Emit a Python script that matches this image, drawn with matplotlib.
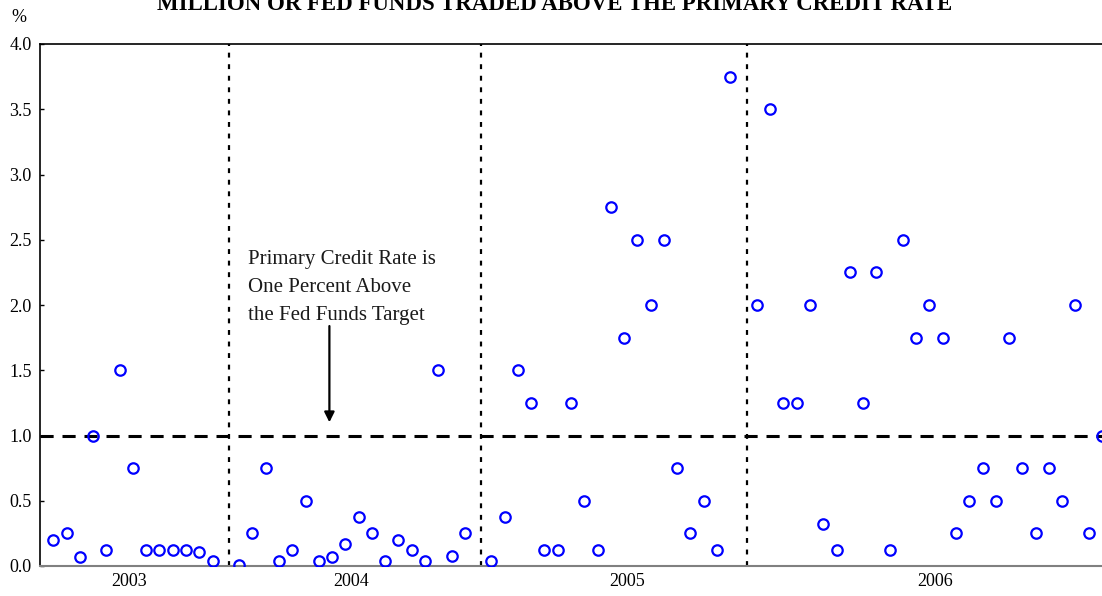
import numpy as np
import matplotlib
matplotlib.use("Agg")
import matplotlib.pyplot as plt

# share of days with more than X million of fed funds traded above primary credit rate (%)
years = ["2003", "2004", "2005", "2006"]
vals_2003 = [0.2, 0.25, 0.07, 1.0, 0.125, 1.5, 0.75, 0.125, 0.125, 0.125, 0.125, 0.11, 0.04]
vals_2004 = [0.01, 0.25, 0.75, 0.04, 0.125, 0.5, 0.04, 0.07, 0.17, 0.375, 0.25, 0.04,
             0.2, 0.125, 0.04, 1.5, 0.08, 0.25]
vals_2005 = [0.04, 0.375, 1.5, 1.25, 0.125, 0.125, 1.25, 0.5, 0.125, 2.75, 1.75, 2.5,
             2.0, 2.5, 0.75, 0.25, 0.5, 0.125, 3.75]
vals_2006 = [2.0, 3.5, 1.25, 1.25, 2.0, 0.32, 0.125, 2.25, 1.25, 2.25, 0.125, 2.5, 1.75,
             2.0, 1.75, 0.25, 0.5, 0.75, 0.5, 1.75, 0.75, 0.25, 0.75, 0.5, 2.0, 0.25, 1.0]
threshold = 1.0
note = "Primary Credit Rate is\nOne Percent Above\nthe Fed Funds Target"
title = "MILLION OR FED FUNDS TRADED ABOVE THE PRIMARY CREDIT RATE"

plt.rcParams['font.family'] = ['Liberation Serif', 'DejaVu Serif']

# category positions, with one empty slot between years
groups = [vals_2003, vals_2004, vals_2005, vals_2006]
xs, ys, gaps = [], [], []
pos = 0
for i, g in enumerate(groups):
    for v in g:
        xs.append(pos)
        ys.append(v)
        pos += 1
    if i < len(groups) - 1:
        gaps.append(pos)
        pos += 1

fig = plt.figure(figsize=(11.02, 5.96), dpi=100)
ax = fig.add_axes([40 / 1102, 30 / 596, 1 - 40 / 1102, 522 / 596])

ax.axhline(threshold, color="black", lw=2.2, dashes=(4.3, 2.9), zorder=2)
for g in gaps:
    ax.axvline(g + 0.25, color="black", lw=1.6, dashes=(2.2, 3.0), zorder=1)

ax.plot(xs, ys, ls="none", marker="o", ms=7.5, mfc="none", mec="#0000ff", mew=1.6, zorder=3)

ax.set_xlim(-1, pos - 1)
ax.set_ylim(0, 4)
ax.set_yticks(np.arange(0, 4.01, 0.5))
ax.set_yticklabels([f"{t:.1f}" for t in np.arange(0, 4.01, 0.5)])
ax.set_xticks([5.7, 22.4, 43.2, 66.4])
ax.set_xticklabels(years)
ax.tick_params(axis="y", direction="in", length=3, width=1, labelsize=13, pad=6)
ax.tick_params(axis="x", length=0, labelsize=13, pad=5)

ax.spines["right"].set_visible(False)
ax.spines["bottom"].set_color("#808080")
ax.spines["bottom"].set_linewidth(1.5)
ax.spines["top"].set_linewidth(1.2)
ax.spines["left"].set_linewidth(1.2)

ax.text(14.7, 2.135, note, fontsize=15, va="center", ha="left", linespacing=1.63,
        color="#1a1a1a")
ax.annotate("", xy=(20.8, 1.08), xytext=(20.8, 1.86),
            arrowprops=dict(arrowstyle="-|>,head_width=0.3,head_length=0.6",
                            color="black", lw=1.6))

fig.text(19 / 1102, 1 - 17 / 596, "%", fontsize=13, ha="center", va="center")
fig.text(555 / 1102, 1 - 10 / 596, title, fontsize=16.5, fontweight="bold",
         ha="center", va="baseline")

fig.savefig("out.png", dpi=100)
